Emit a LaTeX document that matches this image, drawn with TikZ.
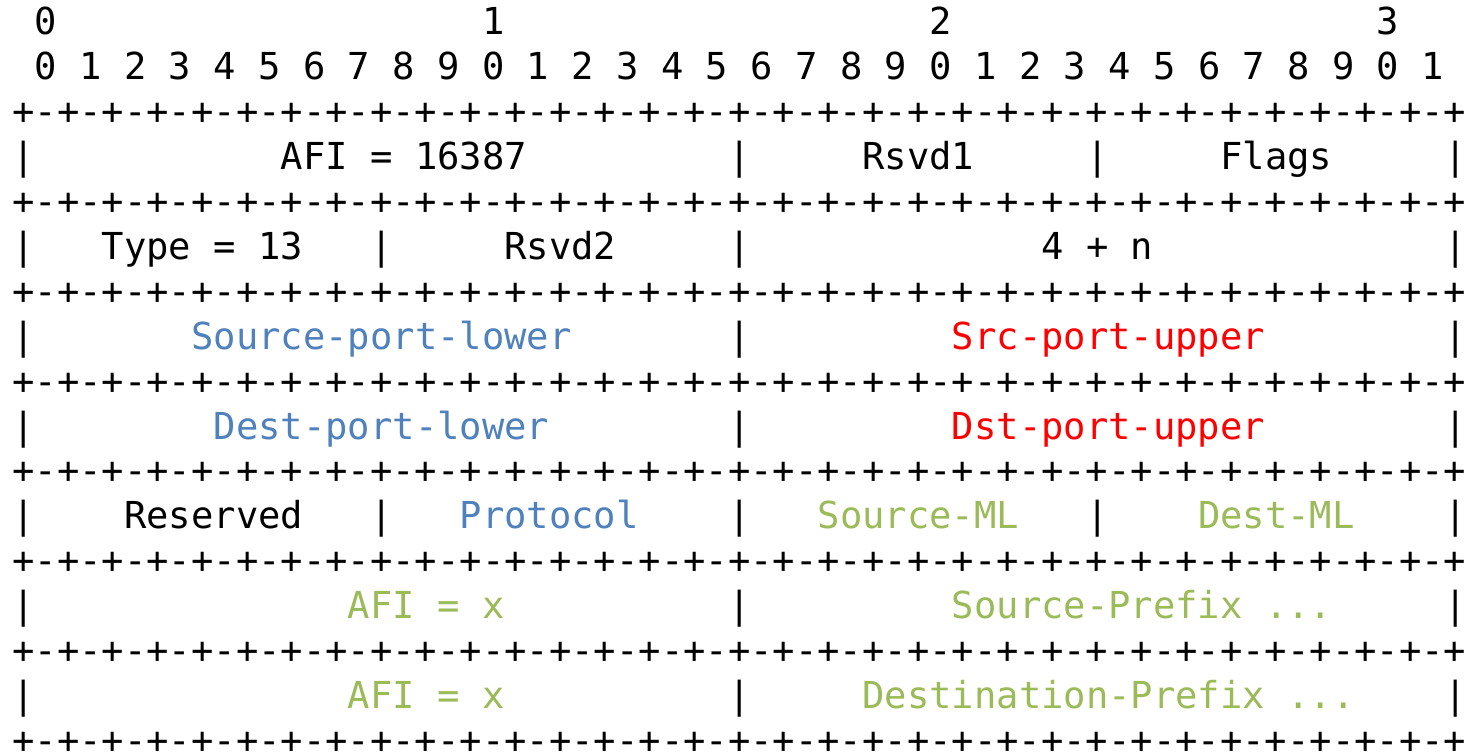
\documentclass[tikz,border=0pt]{standalone}
\usepackage{fontspec}
\setmonofont{DejaVu Sans Mono}
\usepackage{tikz}

\definecolor{fieldblue}{HTML}{4F81BD}
\definecolor{fieldred}{HTML}{FF0000}
\definecolor{fieldgreen}{HTML}{9BBB59}

\tikzset{
  mono/.style={anchor=base west, inner sep=0pt, font=\ttfamily\fontsize{27.87pt}{33.7pt}\selectfont},
  blue field/.style={mono, text=fieldblue},
  red field/.style={mono, text=fieldred},
  green field/.style={mono, text=fieldgreen},
}
\newcommand{\plusline}{+-+-+-+-+-+-+-+-+-+-+-+-+-+-+-+-+-+-+-+-+-+-+-+-+-+-+-+-+-+-+-+-+}

\begin{document}
\begin{tikzpicture}[x=16.78pt,y=-33.675pt]
\useasboundingbox (-0.541,-0.7795) rectangle (65.306,16.036);

% Bit ruler
\foreach \t in {0,1,2,3}
  \node[mono] (tens\t) at ({20*\t+1},0) {\t};
\foreach \b [evaluate=\b as \d using {int(mod(\b,10))}] in {0,...,31}
  \node[mono] (bit\b) at ({2*\b+1},1) {\d};

% Separator lines
\foreach \r in {2,4,...,16}
  \node[mono] (sep\r) at (0,\r) {\plusline};

% Field bars
\foreach \r/\cols in {3/{0,32,48,64}, 5/{0,16,32,64}, 7/{0,32,64}, 9/{0,32,64},
                      11/{0,16,32,48,64}, 13/{0,32,64}, 15/{0,32,64}}
  \foreach \c in \cols
    \node[mono] (bar-\r-\c) at (\c,\r) {|};

% Text Node
\node[mono] (afi) at (12,3) {AFI = 16387};
\node[mono] (rsvdone) at (38,3) {Rsvd1};
\node[mono] (flags) at (54,3) {Flags};
% Text Node
\node[mono] (type) at (4,5) {Type = 13};
\node[mono] (rsvdtwo) at (22,5) {Rsvd2};
\node[mono] (length) at (46,5) {4 + n};
% Text Node
\node[blue field] (srclower) at (8,7) {Source-port-lower};
\node[red field] (srcupper) at (42,7) {Src-port-upper};
% Text Node
\node[blue field] (dstlower) at (9,9) {Dest-port-lower};
\node[red field] (dstupper) at (42,9) {Dst-port-upper};
% Text Node
\node[mono] (reserved) at (5,11) {Reserved};
\node[blue field] (protocol) at (20,11) {Protocol};
\node[green field] (srcml) at (36,11) {Source-ML};
\node[green field] (dstml) at (53,11) {Dest-ML};
% Text Node
\node[green field] (srcafi) at (15,13) {AFI = x};
\node[green field] (srcprefix) at (42,13) {Source-Prefix ...};
% Text Node
\node[green field] (dstafi) at (15,15) {AFI = x};
\node[green field] (dstprefix) at (38,15) {Destination-Prefix ...};

\end{tikzpicture}
\end{document}
